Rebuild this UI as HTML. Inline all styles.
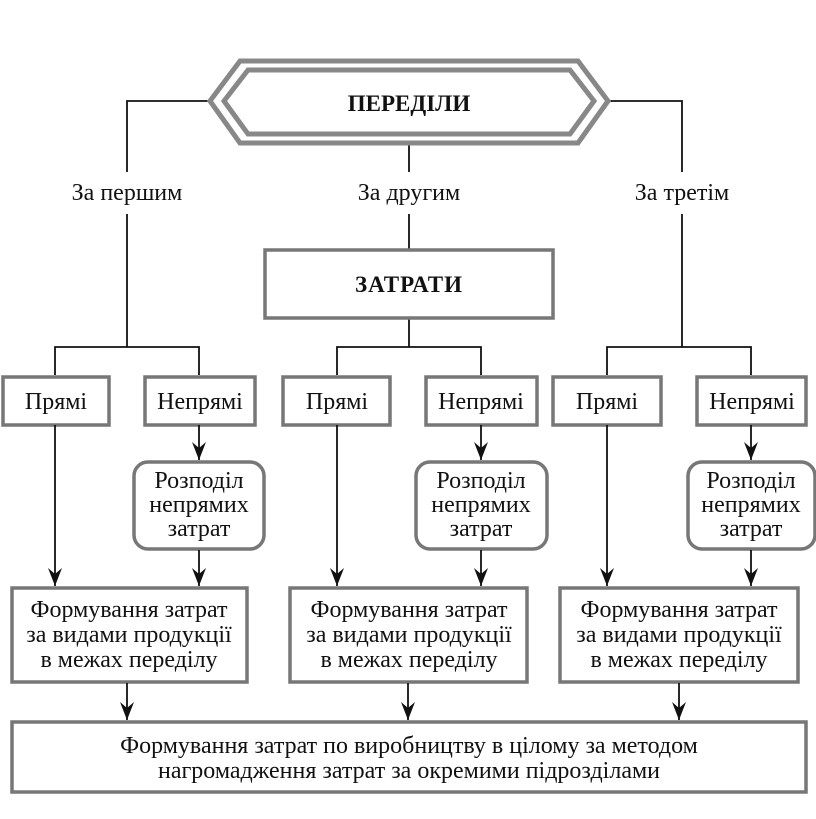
<!DOCTYPE html>
<html><head><meta charset="utf-8"><style>
html,body{margin:0;padding:0;background:#fff;width:816px;height:819px;overflow:hidden}
svg{display:block}
text{font-family:"Liberation Serif","Times New Roman",serif;font-size:24px;fill:#111;text-anchor:middle}
.b{fill:#fff;stroke:#777;stroke-width:3.5}
.l{stroke:#111;stroke-width:1.8;fill:none}
</style></head><body>
<svg width="816" height="819" viewBox="0 0 816 819">
<defs>
<marker id="d" viewBox="0 0 14 18" refX="7" refY="18" markerWidth="14" markerHeight="18" markerUnits="userSpaceOnUse" orient="0"><path d="M0,0 L7,6 L14,0 L7,18 Z" fill="#111"/></marker></defs>

<path class="l" d="M212,101 H127 V172 M127,214 V347 M55,375 V347 H199 V375"/>
<path class="l" d="M606,101 H682 V172 M682,214 V347 M607,375 V347 H751 V375"/>
<path class="l" d="M409,145 V172 M409,214 V250 M409,318 V347 M337,375 V347 H481 V375"/>

<polygon points="210,101 240,61 578,61 608,101 578,143 240,143" fill="#fff" stroke="#888" stroke-width="5"/>
<polygon points="224,101 248,70 570,70 594,101 570,134 248,134" fill="#fff" stroke="#888" stroke-width="5"/>
<text x="409" y="111" style="font-weight:bold;font-size:23px">ПЕРЕДІЛИ</text>

<text x="127" y="200">За першим</text>
<text x="409" y="200">За другим</text>
<text x="682" y="200">За третім</text>

<rect class="b" x="265" y="250" width="288" height="68"/>
<text x="409" y="292" style="font-weight:bold;font-size:23px;letter-spacing:1px">ЗАТРАТИ</text>

<g>
<rect class="b" x="3" y="377" width="106" height="48"/><text x="56" y="409">Прямі</text>
<rect class="b" x="145" y="377" width="110" height="48"/><text x="200" y="409">Непрямі</text>
<rect class="b" x="134" y="462" width="130" height="87" rx="14"/>
<text x="199" y="488">Розподіл</text><text x="199" y="512">непрямих</text><text x="199" y="536">затрат</text>
<rect class="b" x="12" y="588" width="235" height="94"/>
<text x="129" y="617">Формування затрат</text><text x="129" y="642">за видами продукції</text><text x="129" y="667">в межах переділу</text>
<path class="l" d="M55,425 V586" marker-end="url(#d)"/>
<path class="l" d="M199,425 V460" marker-end="url(#d)"/>
<path class="l" d="M199,550 V586" marker-end="url(#d)"/>
<path class="l" d="M127,683 V720" marker-end="url(#d)"/>
</g>
<g>
<rect class="b" x="283" y="377" width="107" height="48"/><text x="337" y="409">Прямі</text>
<rect class="b" x="426" y="377" width="111" height="48"/><text x="481" y="409">Непрямі</text>
<rect class="b" x="416" y="462" width="131" height="87" rx="14"/>
<text x="481" y="488">Розподіл</text><text x="481" y="512">непрямих</text><text x="481" y="536">затрат</text>
<rect class="b" x="290" y="588" width="237" height="94"/>
<text x="409" y="617">Формування затрат</text><text x="409" y="642">за видами продукції</text><text x="409" y="667">в межах переділу</text>
<path class="l" d="M337,425 V586" marker-end="url(#d)"/>
<path class="l" d="M481,425 V460" marker-end="url(#d)"/>
<path class="l" d="M481,550 V586" marker-end="url(#d)"/>
<path class="l" d="M408,683 V720" marker-end="url(#d)"/>
</g>
<g>
<rect class="b" x="553" y="377" width="108" height="48"/><text x="607" y="409">Прямі</text>
<rect class="b" x="697" y="377" width="109" height="48"/><text x="752" y="409">Непрямі</text>
<rect class="b" x="688" y="462" width="127" height="87" rx="14"/>
<text x="751" y="488">Розподіл</text><text x="751" y="512">непрямих</text><text x="751" y="536">затрат</text>
<rect class="b" x="560" y="588" width="238" height="94"/>
<text x="679" y="617">Формування затрат</text><text x="679" y="642">за видами продукції</text><text x="679" y="667">в межах переділу</text>
<path class="l" d="M607,425 V586" marker-end="url(#d)"/>
<path class="l" d="M751,425 V460" marker-end="url(#d)"/>
<path class="l" d="M751,550 V586" marker-end="url(#d)"/>
<path class="l" d="M679,683 V720" marker-end="url(#d)"/>
</g>

<rect class="b" x="12" y="722" width="794" height="70"/>
<text x="409" y="753">Формування затрат по виробництву в цілому за методом</text>
<text x="409" y="778">нагромадження затрат за окремими підрозділами</text>
</svg>
</body></html>
